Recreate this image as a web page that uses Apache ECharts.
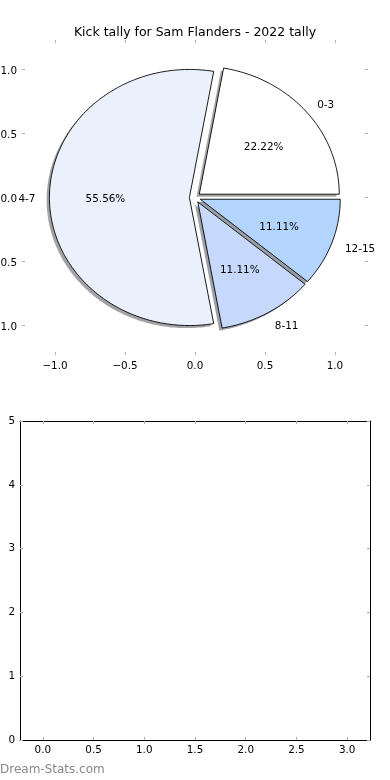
<!DOCTYPE html>
<html>
<head>
<meta charset="utf-8">
<script src="https://cdn.jsdelivr.net/npm/echarts@6/dist/echarts.min.js"></script>
<style>
html,body{margin:0;padding:0;background:#fff;}
#chart{width:390px;height:780px;}
</style>
</head>
<body>
<div id="chart"></div>
<script>
const chartTitle = 'Kick tally for Sam Flanders - 2022 tally';
const categories = ['0-3', '4-7', '8-11', '12-15'];
const counts = [2, 5, 1, 1];
const sliceColors = ['#ffffff', '#eaf1fd', '#c6d9fd', '#b3d4fd'];
const explode = [0.04, 0.04, 0.04, 0.04];
const pieTicks = [-1, -0.5, 0, 0.5, 1];
const barXTicks = [0, 0.5, 1, 1.5, 2, 2.5, 3];
const barYTicks = [0, 1, 2, 3, 4, 5];
const watermark = 'Dream-Stats.com';

const FONT = 'DejaVu Sans, sans-serif';
const total = counts.reduce((a, b) => a + b, 0);
const startAngles = [];
let acc = 0;
counts.forEach(v => { startAngles.push(acc); acc += v / total * 360; });

function fmt(v) { return (v < 0 ? '\u2212' : '') + Math.abs(v).toFixed(1); }
function shadowColor(hex) {
  const r = parseInt(hex.slice(1, 3), 16), g = parseInt(hex.slice(3, 5), 16), b = parseInt(hex.slice(5, 7), 16);
  return 'rgba(' + Math.round(r * 0.3) + ',' + Math.round(g * 0.3) + ',' + Math.round(b * 0.3) + ',0.5)';
}
function wedgePoints(api, i, dx, dy) {
  const a1 = startAngles[i], a2 = a1 + counts[i] / total * 360;
  const am = (a1 + a2) / 2 * Math.PI / 180;
  const cx = explode[i] * Math.cos(am) + dx, cy = explode[i] * Math.sin(am) + dy;
  const pts = [api.coord([cx, cy])];
  const steps = Math.max(8, Math.ceil((a2 - a1) / 1));
  for (let k = 0; k <= steps; k++) {
    const a = (a1 + (a2 - a1) * k / steps) * Math.PI / 180;
    pts.push(api.coord([cx + Math.cos(a), cy + Math.sin(a)]));
  }
  return pts;
}

const tickStyle = { show: true, inside: true, length: 3, lineStyle: { color: '#b0b0b0', width: 1 } };
const labelStyle = { color: '#000', fontSize: 10.4, fontFamily: FONT };
const richShift = { a: { color: '#000', fontSize: 10.4, fontFamily: FONT, padding: [4, 0, 0, 0] } };

function axis(kind, grid, pos, min, max, ticks, showLabel, line, extra) {
  return Object.assign({
    type: 'value', gridIndex: grid, position: pos, min: min, max: max,
    axisLine: { show: line, onZero: false, lineStyle: { color: '#000', width: 1 } },
    splitLine: { show: false },
    axisTick: Object.assign({}, tickStyle, { customValues: ticks }),
    axisLabel: Object.assign({}, labelStyle, kind === 'y' ? {
      show: showLabel, customValues: ticks, margin: 5,
      formatter: v => '{a|' + fmt(v) + '}', rich: richShift
    } : {
      show: showLabel, customValues: ticks, margin: 6, formatter: fmt
    })
  }, extra || {});
}

const chart = echarts.init(document.getElementById('chart'), null, { renderer: 'canvas' });
chart.setOption({
  animation: false,
  backgroundColor: '#fff',
  title: {
    text: chartTitle, left: 'center', top: 21,
    textStyle: { fontSize: 12.5, fontWeight: 'normal', fontFamily: FONT, color: '#000' }
  },
  grid: [
    { left: 22, width: 346, top: 40, height: 315, containLabel: false, outerBoundsMode: 'none' },
    { left: 20, width: 350, top: 421, height: 319, containLabel: false, outerBoundsMode: 'none' }
  ],
  xAxis: [
    axis('x', 0, 'bottom', -1.236, 1.236, pieTicks, true, false),
    axis('x', 0, 'top', -1.236, 1.236, pieTicks, false, false),
    axis('x', 1, 'bottom', -0.225, 3.225, barXTicks, true, true, { axisLabel: Object.assign({}, labelStyle, { customValues: barXTicks, margin: 5, formatter: v => v.toFixed(1) }) }),
    axis('x', 1, 'top', -0.225, 3.225, barXTicks, false, true)
  ],
  yAxis: [
    axis('y', 0, 'left', -1.23, 1.23, pieTicks, true, false),
    axis('y', 0, 'right', -1.23, 1.23, pieTicks, false, false),
    axis('y', 1, 'left', 0, 5, barYTicks, true, true, { axisLabel: Object.assign({}, labelStyle, { customValues: barYTicks, margin: 5, formatter: v => String(v) }) }),
    axis('y', 1, 'right', 0, 5, barYTicks, false, true)
  ],
  series: [
    {
      type: 'custom', xAxisIndex: 0, yAxisIndex: 0, clip: false, z: 1,
      data: categories.map((c, i) => i),
      renderItem: function (params, api) {
        const i = params.dataIndex;
        return {
          type: 'polygon',
          shape: { points: wedgePoints(api, i, -0.02, -0.02) },
          style: { fill: shadowColor(sliceColors[i]), stroke: null }
        };
      }
    },
    {
      type: 'custom', xAxisIndex: 0, yAxisIndex: 0, clip: false, z: 2,
      data: categories.map((c, i) => i),
      renderItem: function (params, api) {
        const i = params.dataIndex;
        const a1 = startAngles[i], a2 = a1 + counts[i] / total * 360;
        const am = (a1 + a2) / 2 * Math.PI / 180;
        const ex = explode[i] * Math.cos(am), ey = explode[i] * Math.sin(am);
        const lp = api.coord([ex + 1.1 * Math.cos(am), ey + 1.1 * Math.sin(am)]);
        const pp = api.coord([ex + 0.6 * Math.cos(am), ey + 0.6 * Math.sin(am)]);
        const pct = (counts[i] / total * 100).toFixed(2) + '%';
        const leftSide = Math.cos(am) + ex < 0;
        return {
          type: 'group',
          children: [
            {
              type: 'polygon',
              shape: { points: wedgePoints(api, i, 0, 0) },
              style: { fill: sliceColors[i], stroke: '#000', lineWidth: 0.9, lineJoin: 'miter' }
            },
            {
              type: 'text', x: lp[0], y: lp[1] + 2,
              style: { text: categories[i], fill: '#000', font: '10.4px ' + FONT,
                align: leftSide ? 'right' : 'left', verticalAlign: 'middle',
                textAlign: leftSide ? 'right' : 'left', textVerticalAlign: 'middle' }
            },
            {
              type: 'text', x: pp[0], y: pp[1] + 2,
              style: { text: pct, fill: '#000', font: '10.4px ' + FONT,
                align: 'center', verticalAlign: 'middle',
                textAlign: 'center', textVerticalAlign: 'middle' }
            }
          ]
        };
      }
    }
  ],
  graphic: [
    {
      type: 'text', left: 0, top: 764,
      style: { text: watermark, fill: '#888888', font: '12px ' + FONT }
    }
  ]
});
</script>
</body>
</html>
